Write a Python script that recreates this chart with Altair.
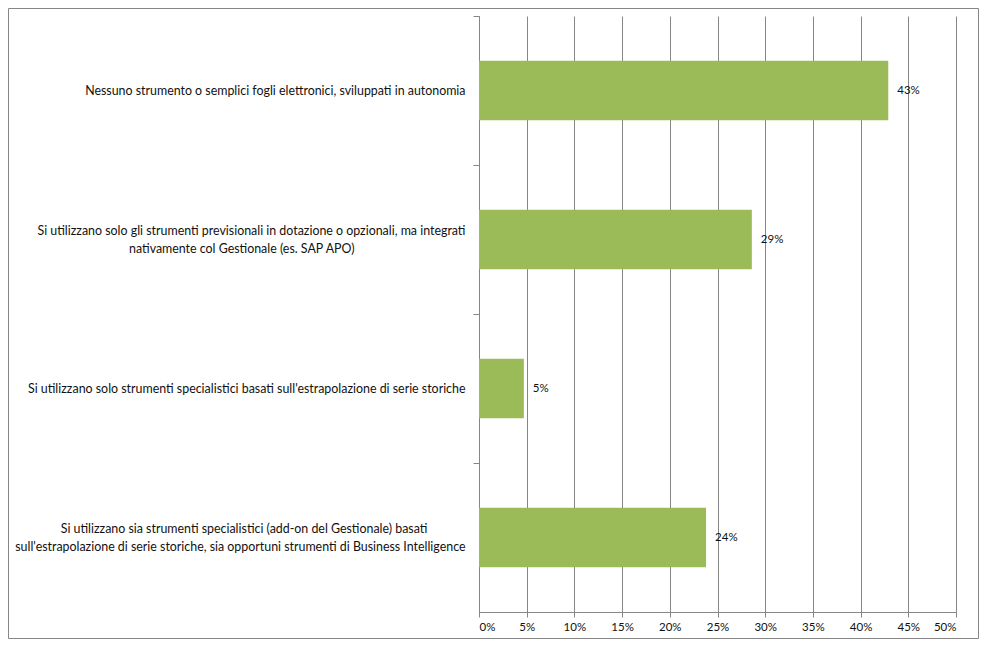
import altair as alt
import pandas as pd

categories = [
    "Nessuno strumento o semplici fogli elettronici, sviluppati in autonomia",
    "Si utilizzano solo gli strumenti previsionali in dotazione o opzionali, ma integrati\nnativamente col Gestionale (es. SAP APO)",
    "Si utilizzano solo strumenti specialistici basati sull'estrapolazione di serie storiche",
    "Si utilizzano sia strumenti specialistici (add-on del Gestionale) basati\nsull'estrapolazione di serie storiche, sia opportuni strumenti di Business Intelligence",
]
values = [0.429, 0.286, 0.047, 0.238]
x_ticks = [0, 0.05, 0.10, 0.15, 0.20, 0.25, 0.30, 0.35, 0.40, 0.45, 0.50]

NBSP = "\u00a0"
ZWSP = "\u200b"
LINE_H = 18


def center_lines(text):
    # pad shorter lines on the right so right-aligned lines appear centred in the block
    lines = text.split("\n")
    if len(lines) == 1:
        return text
    longest = max(len(l) for l in lines)
    out = []
    for l in lines:
        pad = int(round((longest - len(l)) * 0.8))
        out.append(l + NBSP * pad + (ZWSP if pad else ""))
    return "\n".join(out)


labels = [center_lines(c) for c in categories]
df = pd.DataFrame({"category": labels, "value": values})

FONT = "Lato"
GREY = "#868686"
W, H = 477, 596
STEP = H / len(categories)

base = alt.Chart(df)

y_enc = alt.Y(
    "category:N",
    sort=None,
    scale=alt.Scale(paddingInner=0.6, paddingOuter=0.3),
    axis=alt.Axis(
        title=None,
        domainColor=GREY,
        tickColor=GREY,
        tickSize=6,
        tickOffset=-STEP / 2,
        labelOffset={
            "condition": {
                "test": "indexof(datum.value, '\\n') >= 0",
                "value": STEP / 2 - LINE_H / 2,
            },
            "value": STEP / 2,
        },
        labelPadding=8,
        labelAlign="right",
        labelBaseline="middle",
        labelLimit=600,
        labelFont=FONT,
        labelFontSize=12.4,
        labelColor="#111111",
        labelLineHeight=LINE_H,
        labelExpr="split(datum.label, '\\n')",
        grid=False,
    ),
)

x_enc = alt.X(
    "value:Q",
    scale=alt.Scale(domain=[0, 0.5]),
    axis=alt.Axis(
        title=None,
        values=x_ticks,
        format=".0%",
        grid=True,
        gridColor=GREY,
        gridWidth=1,
        domainColor=GREY,
        tickColor=GREY,
        tickSize=5,
        labelPadding=4,
        labelFont=FONT,
        labelFontSize=11.5,
        labelColor="#111111",
    ),
)

bars = base.mark_bar(color="#9BBB59").encode(x=x_enc, y=y_enc)

texts = base.mark_text(
    align="left", baseline="middle", dx=9, font=FONT, fontSize=11.5, color="#111111"
).encode(
    x="value:Q",
    y=alt.Y("category:N", sort=None),
    text=alt.Text("value:Q", format=".0%"),
)

frame = alt.Chart(pd.DataFrame({"f": [0]})).mark_rect(
    fill="transparent", stroke=GREY, strokeWidth=1
).encode(
    x=alt.value(-470.5),
    x2=alt.value(W + 22.5),
    y=alt.value(-7.5),
    y2=alt.value(H + 26.5),
)

chart = (
    alt.layer(frame, bars, texts)
    .properties(
        width=W,
        height=H,
        padding={"left": 471, "top": 8, "right": 23, "bottom": 27},
        autosize=alt.AutoSizeParams(type="none"),
        background="white",
    )
    .configure_view(strokeWidth=0)
)

chart.save("out.html", embed_options={"renderer": "svg", "actions": False})
